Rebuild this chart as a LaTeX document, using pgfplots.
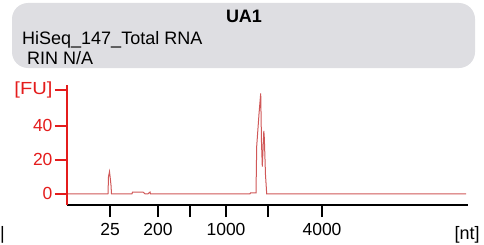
\documentclass[border=0pt]{standalone}
\usepackage{pgfplots}
\pgfplotsset{compat=1.18}
\usepackage{fontspec}
\setmainfont{Liberation Sans}
\definecolor{axred}{RGB}{228,28,28}
\definecolor{datared}{RGB}{208,88,88}
\definecolor{boxgray}{RGB}{222,222,226}
\begin{document}
\begin{tikzpicture}[x=1bp,y=1bp]
\useasboundingbox (0,0) rectangle (484,244);
\fill[boxgray, rounded corners=16bp] (12,244-68) rectangle (475,244-3);
\node[font=\fontsize{18bp}{20bp}\selectfont\bfseries, anchor=base] at (244,244-22) {UA1};
\node[font=\fontsize{18bp}{20bp}\selectfont, anchor=base west, inner sep=0pt] at (22,244-44) {HiSeq\_147\_Total RNA};
\node[font=\fontsize{18bp}{20bp}\selectfont, anchor=base west, inner sep=0pt] at (27,244-64) {RIN N/A};
\node[font=\fontsize{18bp}{20bp}\selectfont, anchor=base west, inner sep=0pt] at (0,244-239) {|};
\begin{axis}[
  at={(67bp,39bp)}, anchor=south west,
  scale only axis, width=401bp, height=120bp,
  xmin=67, xmax=468, ymin=-6.6, ymax=64,
  axis x line*=bottom, axis y line*=left,
  x axis line style={black, line width=2bp},
  y axis line style={axred, line width=2bp},
  xtick={110,158,190,226,268,322},
  xticklabels={25,200,{},1000,{},4000},
  ytick={0,20,40,61},
  yticklabels={0,20,40,{\addfontfeatures{FakeStretch=1.15}[FU]}},
  tick align=outside,
  major tick length=12bp,
  x tick style={black, line width=1.5bp},
  y tick style={axred, line width=1.5bp},
  x tick label style={font=\fontsize{17.5bp}{20bp}\selectfont, black, yshift=-3bp},
  y tick label style={font=\fontsize{17.5bp}{20bp}\selectfont, axred, xshift=1bp},
  /pgf/number format/assume math mode=true,
  clip=false,
]
\addplot[datared, line width=1bp] coordinates {
(68,0) (108,0) (108.5,10) (109.5,13) (110.3,9) (111,5) (111.5,0)
(132,0) (132.5,1) (143,1) (145,0) (148,0) (149,0.5) (150,1) (150.5,0)
(250,0) (250.5,0.5) (256,0.5) (256.7,28) (259,47) (260.7,59) (261.5,30)
(262.3,16) (263.8,37) (264.3,33) (265.5,11) (266.7,0) (466,0)
};
\end{axis}
\node[font=\fontsize{18bp}{20bp}\selectfont, anchor=base] at (467,244-239) {[nt]};
\end{tikzpicture}
\end{document}
